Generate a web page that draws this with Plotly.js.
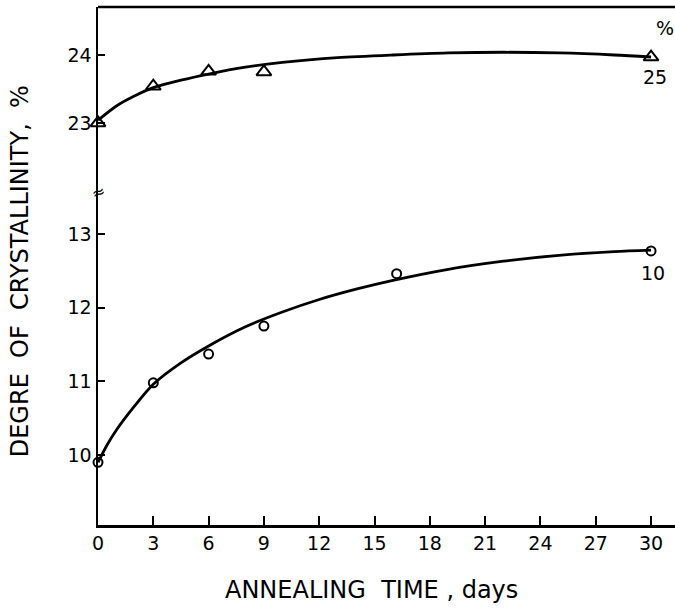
<!DOCTYPE html>
<html>
<head>
<meta charset="utf-8">
<script src="https://cdn.plot.ly/plotly-3.0.1.min.js"></script>
<style>html,body{margin:0;padding:0;background:#fff;}#chart{width:675px;height:608px;}</style>
</head>
<body>
<div id="chart"></div>
<script>
// Measured points (triangles, upper panel) - 25% sample
const triDays = [0, 3, 6, 9, 30];
const triCryst = [23.0, 23.54, 23.76, 23.75, 23.97];
// Fitted curve through the triangles
const triCurveDays = [0, 1, 2, 3, 4.5, 6, 8, 10, 13, 16, 19, 22, 25, 28, 30];
const triCurveCryst = [23.04, 23.25, 23.4, 23.52, 23.63, 23.72, 23.82, 23.89, 23.96, 24.0, 24.03, 24.04, 24.03, 24.0, 23.97];

// Measured points (circles, lower panel) - 10% sample
const cirDays = [0, 3, 6, 9, 16.2, 30];
const cirCryst = [9.9, 10.98, 11.37, 11.75, 12.46, 12.77];
// Fitted curve through the circles
const cirCurveDays = [0, 0.5, 1, 2, 3, 4.5, 6, 8, 10, 12, 14, 16, 19, 22, 25, 28, 30];
const cirCurveCryst = [9.9, 10.14, 10.34, 10.67, 10.96, 11.25, 11.48, 11.74, 11.94, 12.11, 12.25, 12.37, 12.52, 12.63, 12.71, 12.76, 12.78];

const xTicks = [0, 3, 6, 9, 12, 15, 18, 21, 24, 27, 30];
const lowerTicks = [10, 11, 12, 13];
const upperTicks = [23, 24];

const FONT = 'DejaVu Sans, Arial, sans-serif';
const ink = '#000';

const traces = [
  {x: cirCurveDays, y: cirCurveCryst, mode: 'lines', line: {shape: 'spline', smoothing: 0.8, color: ink, width: 2.8}, xaxis: 'x', yaxis: 'y', hoverinfo: 'skip'},
  {x: cirDays, y: cirCryst, mode: 'markers', marker: {symbol: 'circle-open', size: 9, color: ink, line: {width: 2, color: ink}}, xaxis: 'x', yaxis: 'y', cliponaxis: false},
  {x: triCurveDays, y: triCurveCryst, mode: 'lines', line: {shape: 'spline', smoothing: 0.8, color: ink, width: 2.8}, xaxis: 'x', yaxis: 'y2', hoverinfo: 'skip'},
  {x: triDays, y: triCryst, mode: 'markers', marker: {symbol: 'triangle-up-open', size: 13, color: ink, line: {width: 2, color: ink}}, xaxis: 'x', yaxis: 'y2', cliponaxis: false}
];

const tickFont = {family: FONT, size: 19, color: ink};
const brk = 0.641;

const layout = {
  width: 675, height: 608,
  margin: {l: 98, r: 0, t: 7, b: 83, pad: 0},
  paper_bgcolor: '#fff', plot_bgcolor: '#fff',
  showlegend: false,
  xaxis: {
    range: [0, 31.3], tickvals: xTicks, ticktext: xTicks.map(String),
    ticks: 'inside', ticklen: 9, tickwidth: 2, tickcolor: ink,
    showline: true, linecolor: ink, linewidth: 2.5, showgrid: false, zeroline: false,
    tickfont: tickFont, anchor: 'y'
  },
  yaxis: {
    domain: [0, brk], range: [9.05, 13.556], tickvals: lowerTicks, ticktext: lowerTicks.map(String),
    ticks: 'inside', ticklen: 7, tickwidth: 2, tickcolor: ink,
    showline: true, linecolor: ink, linewidth: 2.5, showgrid: false, zeroline: false,
    tickfont: tickFont, anchor: 'x'
  },
  yaxis2: {
    domain: [brk, 1], range: [21.97, 24.706], tickvals: upperTicks, ticktext: upperTicks.map(String),
    ticks: 'inside', ticklen: 7, tickwidth: 2, tickcolor: ink,
    showline: true, linecolor: ink, linewidth: 2.5, showgrid: false, zeroline: false,
    tickfont: tickFont, anchor: 'x'
  },
  shapes: [
    {type: 'line', xref: 'paper', yref: 'paper', x0: 0, x1: 1, y0: 1, y1: 1, line: {color: ink, width: 2.5}}
  ],
  annotations: [
    {text: 'DEGRE  OF  CRYSTALLINITY,  %', xref: 'paper', yref: 'paper', x: -0.135, y: 0.49, textangle: -90,
     showarrow: false, font: {family: FONT, size: 24, color: ink}, xanchor: 'center', yanchor: 'middle'},
    {text: 'ANNEALING  TIME , days', xref: 'paper', yref: 'paper', x: (371 - 98) / 577, y: -0.125,
     showarrow: false, font: {family: FONT, size: 24, color: ink}, xanchor: 'center', yanchor: 'middle'},
    {text: '≈', xref: 'paper', yref: 'paper', x: 0, y: brk, showarrow: false, textangle: -20,
     font: {family: FONT, size: 16, color: ink}, xanchor: 'center', yanchor: 'middle'},
    {text: '%', xref: 'x', yref: 'y2', x: 30, y: 24.4, xshift: 14, showarrow: false,
     font: {family: FONT, size: 19, color: ink}},
    {text: '25', xref: 'x', yref: 'y2', x: 30, y: 23.68, xshift: 4, showarrow: false,
     font: {family: FONT, size: 19, color: ink}},
    {text: '10', xref: 'x', yref: 'y', x: 30, y: 12.47, xshift: 2, showarrow: false,
     font: {family: FONT, size: 19, color: ink}}
  ]
};

Plotly.newPlot('chart', traces, layout, {displayModeBar: false, staticPlot: true});
</script>
</body>
</html>
